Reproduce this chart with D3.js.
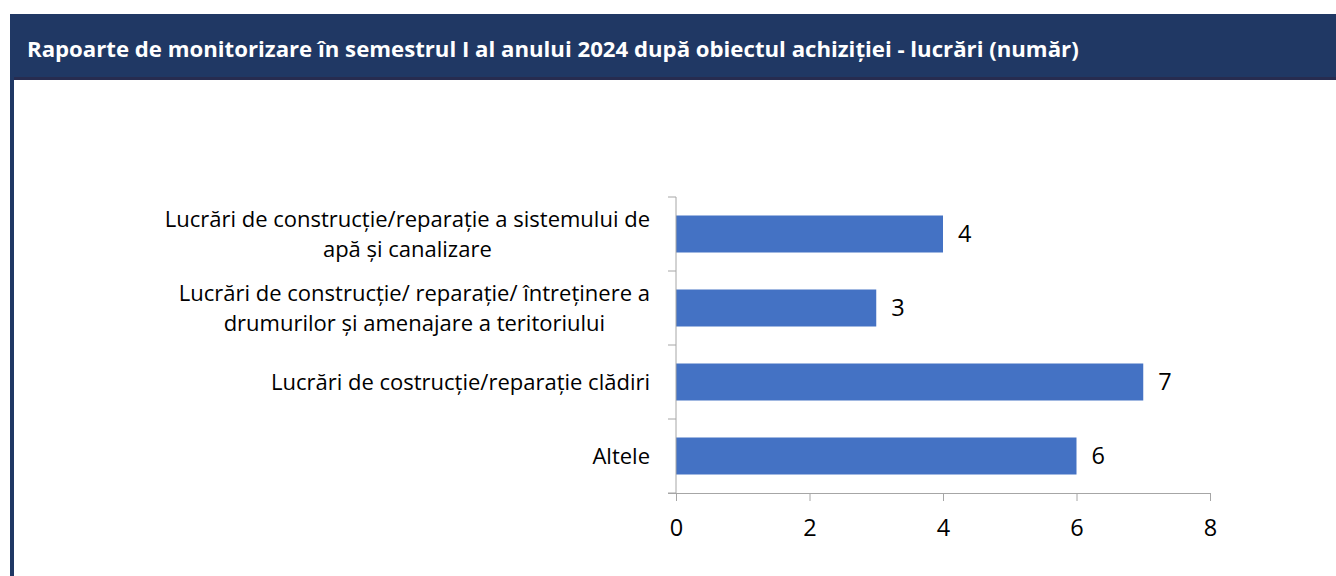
<!DOCTYPE html>
<html>
<head>
<meta charset="utf-8">
<script src="https://cdn.jsdelivr.net/npm/d3@7"></script>
<style>
	html, body { margin: 0; padding: 0; background: #fff; }
	svg text { font-family: "Open Sans", sans-serif; }
</style>
</head>
<body>
<div class="canvas"></div>
<script>
const title = 'Rapoarte de monitorizare în semestrul I al anului 2024 după obiectul achiziției - lucrări (număr)';
const categories = [
	'Lucrări de construcție/reparație a sistemului de\napă și canalizare',
	'Lucrări de construcție/ reparație/ întreținere a\ndrumurilor și amenajare a teritoriului',
	'Lucrări de costrucție/reparație clădiri',
	'Altele'
];
const values = [4, 3, 7, 6];
const xTicks = [0, 2, 4, 6, 8];

const width = 1336, height = 576;
const navy = '#203864';

const svg = d3.select('.canvas').append('svg')
	.attr('width', width)
	.attr('height', height);

// header band + left border
svg.append('rect')
	.attr('x', 10).attr('y', 14)
	.attr('width', width - 10).attr('height', 66)
	.attr('fill', navy);
svg.append('rect')
	.attr('x', 10).attr('y', 77)
	.attr('width', width - 10).attr('height', 3)
	.attr('fill', '#272c50');
svg.append('rect')
	.attr('x', 10).attr('y', 14)
	.attr('width', 4).attr('height', height - 14)
	.attr('fill', navy);

svg.append('text')
	.attr('x', 27)
	.attr('y', 57)
	.attr('fill', '#fff')
	.attr('font-size', 22.2)
	.attr('font-weight', 700)
	.text(title);

// scales
const x = d3.scaleLinear()
	.domain([0, 8])
	.range([676, 1210]);

const y = d3.scaleBand()
	.domain(categories)
	.range([197, 493])
	.paddingInner(0.5)
	.paddingOuter(0.25);

const axisColor = '#a6a6a6';

// bars
svg.selectAll('rect.bar')
	.data(values)
	.enter()
	.append('rect')
	.attr('class', 'bar')
	.attr('x', x(0))
	.attr('y', (d, i) => y(categories[i]))
	.attr('width', d => x(d) - x(0))
	.attr('height', y.bandwidth())
	.attr('fill', '#4472c4');

// value labels
svg.selectAll('text.val')
	.data(values)
	.enter()
	.append('text')
	.attr('class', 'val')
	.attr('x', d => x(d) + 15)
	.attr('y', (d, i) => y(categories[i]) + y.bandwidth() / 2)
	.attr('dy', '0.36em')
	.attr('font-size', 23.5)
	.attr('fill', '#000')
	.text(d => d);

// x axis
const xAxisGroup = svg.append('g')
	.attr('transform', `translate(0, 493)`)
	.call(d3.axisBottom(x).tickValues(xTicks).tickSize(8).tickPadding(18).tickSizeOuter(0));

xAxisGroup.select('.domain').attr('stroke', axisColor).attr('d', `M${x(0) - 8},0.5H${x(8)}`);
xAxisGroup.selectAll('line').attr('stroke', axisColor);
xAxisGroup.selectAll('text')
	.attr('font-size', 23.5)
	.attr('font-family', '"Open Sans", sans-serif')
	.attr('fill', '#000');

// y axis (category boundaries as ticks)
const yAxisGroup = svg.append('g');
yAxisGroup.append('line')
	.attr('x1', x(0)).attr('x2', x(0))
	.attr('y1', 197).attr('y2', 493)
	.attr('stroke', axisColor);
const bounds = d3.range(categories.length + 1).map(i => 197 + i * y.step());
yAxisGroup.selectAll('line.tk')
	.data(bounds)
	.enter()
	.append('line')
	.attr('class', 'tk')
	.attr('x1', x(0) - 8).attr('x2', x(0))
	.attr('y1', d => d).attr('y2', d => d)
	.attr('stroke', axisColor);

// category labels: block right-aligned at 650, lines centred inside the block
const lineH = 30;
categories.forEach((c, i) => {
	const lines = c.split('\n');
	const cy = y(c) + y.bandwidth() / 2;
	const g = svg.append('g');
	const texts = lines.map((ln, j) => g.append('text')
		.attr('y', cy + (j - (lines.length - 1) / 2) * lineH)
		.attr('dy', '0.35em')
		.attr('font-size', 22)
		.attr('fill', '#000')
		.attr('text-anchor', 'middle')
		.text(ln));
	const w = d3.max(texts, t => t.node().getComputedTextLength());
	texts.forEach(t => t.attr('x', 650 - w / 2));
});
</script>
</body>
</html>
